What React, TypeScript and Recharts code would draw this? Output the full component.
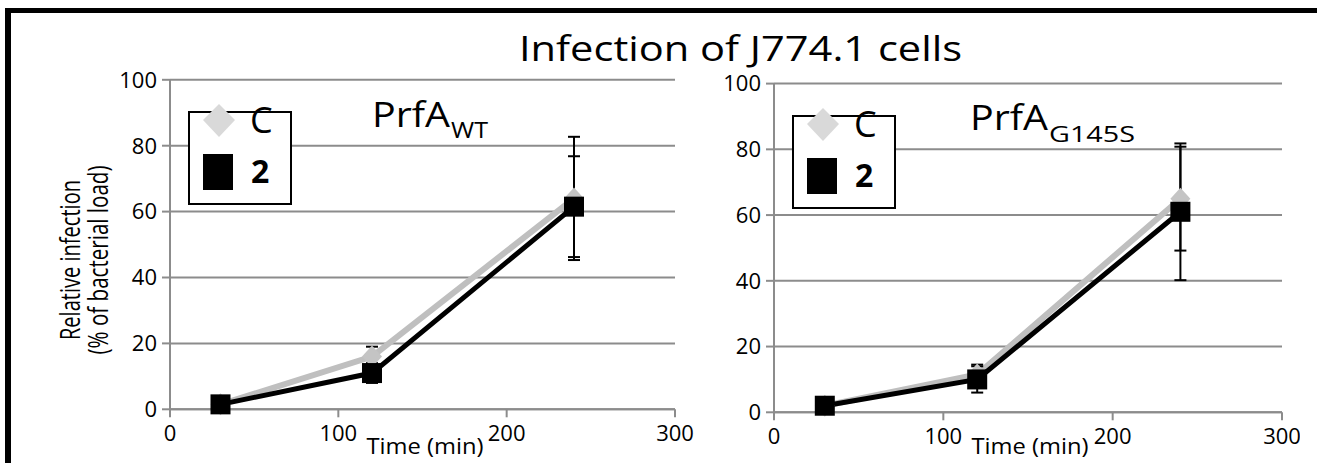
import React from 'react';
import { LineChart, Line, XAxis, YAxis, CartesianGrid, ErrorBar } from 'recharts';

// time points (min)
const times = [30, 120, 240];

// PrfA WT panel
const wtC = [1.5, 16, 64];
const wtCErr = [0.5, 3, 18.7];
const wt2 = [1.5, 11, 61.5];
const wt2Err = [0.5, 3, 15.3];

// PrfA G145S panel
const mutC = [2, 11.5, 65];
const mutCErr = [0.5, 3, 15.8];
const mut2 = [2, 10, 61];
const mut2Err = [0.5, 4, 20.8];

const xTicks = [0, 100, 200, 300];
const yTicks = [0, 20, 40, 60, 80, 100];

const FONT = '"Open Sans", "DejaVu Sans", sans-serif';
const GRID = '#8c8c8c';

const buildRows = (c: number[], cErr: number[], s2: number[], s2Err: number[]) =>
  times.map((t, i) => ({ time: t, c: c[i], cErr: cErr[i], s2: s2[i], s2Err: s2Err[i] }));

const Diamond = (props: any) => {
  const { cx, cy } = props;
  if (cx == null || cy == null) return <g key={props.key} />;
  return (
    <polygon
      key={props.key}
      points={`${cx},${cy - 11} ${cx + 10},${cy} ${cx},${cy + 11} ${cx - 10},${cy}`}
      fill="#c4c4c4"
    />
  );
};

const Square = (props: any) => {
  const { cx, cy } = props;
  if (cx == null || cy == null) return <g key={props.key} />;
  return <rect key={props.key} x={cx - 10} y={cy - 10} width={20} height={20} fill="#000" />;
};

type PanelProps = {
  rows: any[];
  left: number;
  margin: { top: number; right: number; bottom: number; left: number };
};

function Panel({ rows, left, margin }: PanelProps) {
  const tick = { fill: '#000', fontSize: 22, fontFamily: FONT };
  return (
    <div style={{ position: 'absolute', left, top: 0 }}>
      <LineChart width={700} height={463} data={rows} margin={margin}>
        <CartesianGrid horizontal vertical={false} stroke={GRID} strokeWidth={2} />
        <XAxis
          dataKey="time"
          type="number"
          domain={[0, 300]}
          ticks={xTicks}
          height={40}
          tick={tick}
          tickSize={8}
          tickMargin={8}
          stroke={GRID}
          strokeWidth={2}
          interval={0}
        />
        <YAxis
          type="number"
          domain={[0, 100]}
          ticks={yTicks}
          width={60}
          tick={tick}
          tickSize={8}
          tickMargin={5}
          stroke={GRID}
          strokeWidth={2}
          interval={0}
        />
        <Line
          dataKey="c"
          stroke="#bfbfbf"
          strokeWidth={6}
          dot={Diamond}
          activeDot={false}
          isAnimationActive={false}
        >
          <ErrorBar dataKey="cErr" direction="y" stroke="#000" strokeWidth={2} width={6} />
        </Line>
        <Line
          dataKey="s2"
          stroke="#000"
          strokeWidth={5}
          dot={Square}
          activeDot={false}
          isAnimationActive={false}
        >
          <ErrorBar dataKey="s2Err" direction="y" stroke="#000" strokeWidth={2} width={6} />
        </Line>
      </LineChart>
    </div>
  );
}

function LegendBox({ x, y }: { x: number; y: number }) {
  return (
    <g transform={`translate(${x},${y})`}>
      <rect x={0} y={0} width={102} height={92} fill="#fff" stroke="#000" strokeWidth={2} />
      <polygon points="30,-8 46,8 30,25 14,8" fill="#d9d9d9" />
      <text x={61} y={21} fontSize={36} fontFamily={FONT} fill="#000">C</text>
      <rect x={14} y={42} width={30} height={36} fill="#000" />
      <text x={62} y={71} fontSize={32} fontWeight="bold" fontFamily={FONT} fill="#000">2</text>
    </g>
  );
}

export default function App() {
  const wtRows = buildRows(wtC, wtCErr, wt2, wt2Err);
  const mutRows = buildRows(mutC, mutCErr, mut2, mut2Err);

  return (
    <div
      style={{
        position: 'absolute',
        left: 0,
        top: 0,
        width: 1317,
        height: 463,
        background: '#fff',
        overflow: 'hidden',
        fontFamily: FONT,
      }}
    >
      <Panel rows={wtRows} left={0} margin={{ top: 79.8, right: 25, bottom: 13.7, left: 110 }} />
      <Panel rows={mutRows} left={600} margin={{ top: 83.6, right: 18, bottom: 10.7, left: 114 }} />

      <svg
        width={1317}
        height={463}
        style={{ position: 'absolute', left: 0, top: 0, pointerEvents: 'none' }}
      >
        {/* frame */}
        <rect x={5} y={8} width={1312} height={5} fill="#000" />
        <rect x={5} y={8} width={6} height={455} fill="#000" />

        <text x={519} y={61} fontSize={35} fontFamily={FONT} fill="#000" textLength={443} lengthAdjust="spacingAndGlyphs">
          Infection of J774.1 cells
        </text>

        <text transform="translate(80,260) rotate(-90)" textAnchor="middle" fontSize={28} fontFamily={FONT} fill="#000" textLength={160} lengthAdjust="spacingAndGlyphs">
          Relative infection
        </text>
        <text transform="translate(108,260) rotate(-90)" textAnchor="middle" fontSize={28} fontFamily={FONT} fill="#000" textLength={189} lengthAdjust="spacingAndGlyphs">
          (% of bacterial load)
        </text>

        <text x={372} y={127} fontSize={35} fontFamily={FONT} fill="#000" textLength={78} lengthAdjust="spacingAndGlyphs">PrfA</text>
        <text x={451} y={138} fontSize={21} fontFamily={FONT} fill="#000" textLength={37} lengthAdjust="spacingAndGlyphs">WT</text>
        <text x={970} y={130} fontSize={35} fontFamily={FONT} fill="#000" textLength={78} lengthAdjust="spacingAndGlyphs">PrfA</text>
        <text x={1049} y={142} fontSize={21} fontFamily={FONT} fill="#000" textLength={86} lengthAdjust="spacingAndGlyphs">G145S</text>

        <text x={425} y={454} textAnchor="middle" fontSize={21} fontFamily={FONT} fill="#000" textLength={117} lengthAdjust="spacingAndGlyphs">Time (min)</text>
        <text x={1030} y={454} textAnchor="middle" fontSize={21} fontFamily={FONT} fill="#000" textLength={117} lengthAdjust="spacingAndGlyphs">Time (min)</text>

        <LegendBox x={189} y={112} />
        <LegendBox x={793} y={116} />
      </svg>
    </div>
  );
}
